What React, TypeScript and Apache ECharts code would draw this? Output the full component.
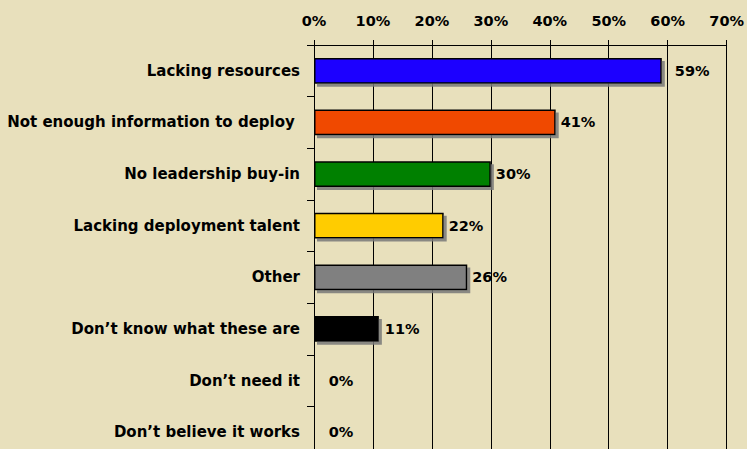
import React, { useEffect, useRef } from "react";
import * as echarts from "echarts";

const categories = [
  "Lacking resources",
  "Not enough information to deploy ",
  "No leadership buy-in",
  "Lacking deployment talent",
  "Other",
  "Don\u2019t know what these are",
  "Don\u2019t need it",
  "Don\u2019t believe it works",
];
const values = [59, 41, 30, 22, 26, 11, 0, 0];
const barColors = ["#1A00FF", "#F04800", "#008000", "#FFCC00", "#808080", "#000000", "#808080", "#808080"];
const labelGaps = [13, 5, 5, 5, 5, 6, 14, 14];
const ticks = [0, 10, 20, 30, 40, 50, 60, 70];

const FONT = "'DejaVu Sans', Verdana, sans-serif";

export default function App() {
  const ref = useRef<HTMLDivElement>(null);

  useEffect(() => {
    document.body.style.margin = "0";
    document.body.style.overflow = "hidden";
    const chart = echarts.init(ref.current!, null, { renderer: "svg" });
    chart.setOption({
      animation: false,
      backgroundColor: "#E8E0BC",
      grid: { left: 314, top: 45, right: 20, bottom: 0, containLabel: false },
      xAxis: {
        type: "value",
        position: "top",
        min: ticks[0],
        max: ticks[ticks.length - 1],
        interval: 10,
        axisLine: { show: true, lineStyle: { color: "#000", width: 1 } },
        axisTick: { show: true, length: 5, lineStyle: { color: "#000" } },
        axisLabel: {
          formatter: "{value}%",
          color: "#000",
          fontFamily: FONT,
          fontWeight: "bold",
          fontSize: 14.5,
          margin: 17,
        },
        splitLine: { show: true, lineStyle: { color: "#000", width: 1 } },
      },
      yAxis: {
        type: "category",
        inverse: true,
        data: categories,
        axisLine: { show: true, lineStyle: { color: "#000", width: 1 } },
        axisTick: { show: true, length: 7, lineStyle: { color: "#000" } },
        axisLabel: {
          color: "#000",
          fontFamily: FONT,
          fontWeight: "bold",
          fontSize: 15,
          margin: 14,
        },
      },
      series: [
        {
          type: "bar",
          barWidth: "50%",
          data: values.map((v, i) => ({
            value: v,
            itemStyle: { color: barColors[i] },
            label: { distance: labelGaps[i] },
          })),
          itemStyle: {
            borderColor: "#000",
            borderWidth: 1.5,
            shadowColor: "rgba(120,120,120,0.85)",
            shadowOffsetX: 3,
            shadowOffsetY: 3,
            shadowBlur: 0,
          },
          label: {
            show: true,
            position: "right",
            formatter: "{c}%",
            color: "#000",
            fontFamily: FONT,
            fontWeight: "bold",
            fontSize: 14.5,
          },
        },
      ],
    });
    return () => chart.dispose();
  }, []);

  // The plot runs a few pixels past the bottom of the window, so the last row is cut off.
  return <div ref={ref} style={{ width: 747, height: 458 }} />;
}
